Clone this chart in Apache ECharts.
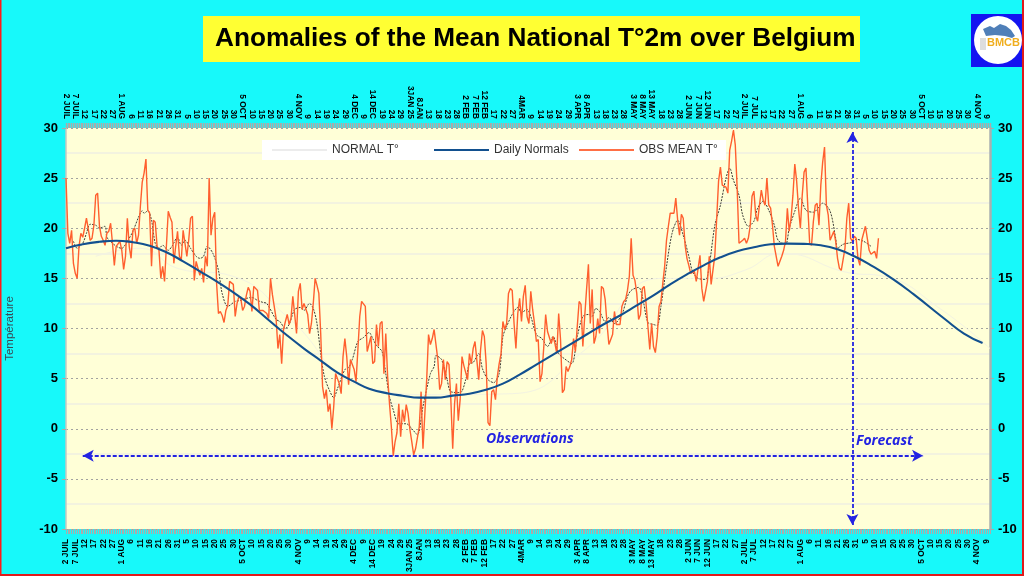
<!DOCTYPE html>
<html><head><meta charset="utf-8">
<style>html,body{margin:0;padding:0;background:#17F9FA}#c{width:1024px;height:576px}</style>
<script src="https://cdn.jsdelivr.net/npm/echarts@6/dist/echarts.min.js"></script>
</head><body><div id="c"></div>
<script>
const tickLabels = ["2 JUIL","7 JUIL","12","17","22","27","1 AUG","6","11","16","21","26","31","5","10","15","20","25","30","5 OCT","10","15","20","25","30","4 NOV","9","14","19","24","29","4 DEC","9","14 DEC","19","24","29","3JAN 25","8JAN","13","18","23","28","2 FEB","7 FEB","12 FEB","17","22","27","4MAR","9","14","19","24","29","3 APR","8 APR","13","18","23","28","3 MAY","8 MAY","13 MAY","18","23","28","2 JUN","7 JUN","12 JUN","17","22","27","2 JUIL","7 JUL","12","17","22","27","1 AUG","6","11","16","21","26","31","5","10","15","20","25","30","5 OCT","10","15","20","25","30","4 NOV","9"];
const DAY_COUNT = 498;

const obsSummer = [25,19.5,18.5,19.8,16.5,15.5,15,18.2,19.5,19.1,
20,21,21.1,18.8,19,20.3,23.3,23.5,20.2,19.2,
18.8,18.3,19.5,19.7,20.5,18.5,16.3,18.2,18.2,18.7,
17.8,15.9,17.2,21,18.2,17,19.8,20,18.5,19.3,
22.2,24.6,25.5,26.9,21.8,21.5,16.2,20.8,20.6,18.2,
17.8,15,16.2,14.7,18.2,21.7,21.1,20.6,16.5,18.2,
19.7,17.2,16.8,19.8,18.5,17.2,18.8,21,21.2,14.8,
16.7,16.7,15.3,16,14.6,17.2,16.2,25,19.3,21,
21.6,14.5,11.5,11.7,11.3,10.6,11.8,12.3,14.7,14.7,
14.4,11.2,12.5,13.2,13,11.8,12.2,13.3,14.1,13.7,
11.7,14.2,14.3,13.8,11.8,11.9,11.8,11.8,11.5,11,
15,13.4,13.3,11];
const obsWinter = [8,9.4,6.5,9.9,10.7,11.4,10.4,11,13.2,11.4,
9.5,13.7,14.5,11.9,12.5,12.6,11.4,9.5,10.5,12.5,
15,14.3,13.5,9.5,4.2,3,3.9,1.7,2.5,0,
2.2,5.5,5,4.5,3.5,7.2,9,7.2,4.4,6.9,
7,5.9,4.7,7.9,11.2,12.7,12.7,12.2,7.7,7.7,
9.2,6.5,6.7,10.4,8.2,10.5,10.7,5.5,9.5,5.2,
2.5,0.2,-2.7,-1.3,-0.4,2.5,-0.8,1.9,0.7,2.4,
1.5,-0.1,-1.3,-2.6,-2,-1.9,0.2,3.7,-2,-1.9,
4.9,9.4,8.4,9,9.9,10,6.9,3.9,4.5,6.9,
4.9,6.7,6.4,2.9,-2,2.5,4.5,0.8,2.9,7.2,
6.3,6.4,4.9,7.5,6.5,8,8.7,8.7,4.9];
const obsSpring = [7.9,9.8,9.2,6.5,0.6,0.3,3.7,3.9,2.9,5.2,
6.5,7.5,10.7,9.9,10.5,13.5,14,13.8,10.5,8,
11.5,13,10.7,13.2,14.3,11.2,10.5,13.7,11.9,10.5,
8.7,8.9,4.7,5.5,8.2,11.4,9.7,9.7,8.5,9.2,
8.5,7.5,11.5,8.9,3.6,3.9,6.2,5.7,6.2,6.9,
9,7.7,7.8,12.7,12.4,8.2,11.2,13.9,16.4,10.5,
13.9,8.5,9.2,11,9.5,14.2,14,12.9,10.5,8.4,
8.9,9.4,11.7,10.4,10.3,10.4,12.2,12.7,12.9,13.8,
15.2,19,15.3,14.8,13.5,10.9,11.4,14,14.2,12.5,
10.2,7.9,10.5,8.2,7.6,9.2,12.2,12.7,14.5,16.2,
18.8,20.2,21.5,21.6,21.5,23,20.8,19.3];
const obsNextSummer = [21.4,21,18.3,17,16.3,15.5,15.4,15.7,14.7,14.8,
17.3,14,12.7,12.7,14.7,17.2,14.4,14.3,17.3,21,
24.7,26.1,24.3,24.4,24.1,23.5,27.8,28.7,29.8,28.3,
24,18.5,18.5,18.8,19,18.5,19,20.2,23.2,23.7,
21.3,20.7,22.3,23.8,22.8,22.3,25,22.3,22,20.3,
18.2,17.2,16.2,16.7,17.2,17.8,18.7,22,19.7,21,
23.3,26.4,24.7,22,20,23.3,25.6,26,22.2,18.5,
18.3,20.7,22.3,22.5,20.3,24.3,26.6,28.1,22.3,21.3,
18.8,18.7,19.7,18.7,17,16,15.8,15.8,18,21,
22.5,19,18.7,19.2,19,17,16.3,18.8,18.7,20.2,
19,17.8,17.4,17.5,17.7,17,19];
const obsValues = [...obsSummer, ...obsWinter, ...obsSpring, ...obsNextSummer];

const trendDays = [4,6,9,11,13,16,18,21,22,25,28,30,33,36,39,41,42,44,46,48,50,52,55,57,60,62,64,67,70,72,74,76,79,82,84,87,91,94,97,100,103,106,108,113,
115,118,120,123,126,128,131,133,135,137,139,142,144,146,150,152,154,157,160,163,165,167,170,172,174,176,179,183,186,189,192,196,198,199,202,205,207,212,215,217,219,222,
224,227,230,233,235,237,240,243,245,248,250,253,256,259,262,265,268,272,275,278,281,283,285,287,290,292,295,299,302,304,308,310,313,316,318,320,323,326,329,
332,335,337,340,344,346,349,352,355,357,359,362,364,367,370,372,375,378,381,383,387,389,392,395,398,402,407,411,414,415,418,423,425,429,433];
const trendValues = [18.7,18,18.5,19.5,20.4,20.3,20,20.2,19.1,18.5,18.1,18,18.7,19.7,21.1,21.75,21.5,21.75,20.8,18.5,18,18.3,17.8,18.2,19.1,18.3,18.8,18,17.2,17,17.2,18.2,17.5,15.8,13.5,12.2,12.7,12.8,13,13.1,12.8,12.6,12.5,10.9,
10.7,10,10.4,11.9,12.1,11.8,12.5,12,10.5,7.5,5.2,3.7,3.1,4,5.9,6.1,6.9,8.7,9.1,9.6,9,8.3,7.7,5.5,3.2,1.9,0.5,0.5,0,-0.6,2.2,5.5,6.2,7.3,6.9,4.9,3.7,3.6,4.9,6.5,6.6,7.5,
6,4.9,4.6,5.5,9.2,10.2,11.4,12.1,11.6,11.9,11.2,9.4,9,8.2,9.2,7.5,7,6.5,9.2,11.2,11.4,11.2,12,11.7,10.7,11.1,10.5,11.4,13.2,13.8,14.1,13.2,10.6,10.4,10.3,12.2,16.2,19.5,20.8,
19.3,17.2,15.7,15,14.9,16.3,20.3,22.3,25,26,24.8,23.3,21.3,20.2,20.7,22,22.7,21.8,20.3,18.8,18.4,20,21.7,23,21.8,21.6,22.5,21.7,19,18,18.4,18.6,18.9,18.7,18.2];

const normalDays = [0,9,18,27,36,45,54,63,72,81,90,99,108,119,128,137,146,155,163,174,181,190,199,208,217,226,235,244,253,262,271,280,289,298,307,316,325,334,343,352,361,370,379,388,397,406,415,424,433,445,456,473,483,493];
const normalValues = [18,18.4,18.65,18.76,18.6,18.25,17.6,16.7,15.7,14.7,13.6,12.4,11,9.3,8,6.8,5.6,4.7,4,3.5,3.3,3.1,3.1,3.3,3.5,3.9,4.5,5.4,6.4,7.4,8.4,9.4,10.4,11.3,12.3,13.3,14.4,15.4,16.3,17.1,17.7,18.1,18.4,18.47,18.44,18.3,17.9,17.2,16.3,14.9,13.4,10.9,9.5,8.55];

const faintDays = [16,40,60,90,120,160,200,240,280,320,345,365,385,420,440,470,497];
const faintValues = [17.2,18,16,15.2,11,4.2,3.4,3.5,8,15,15,15.8,17.5,15.6,15.2,12,8];

const zip = (a, b) => a.map((d, i) => [d, b[i]]);
const categories = Array.from({length: DAY_COUNT}, (_, i) => i % 5 === 0 && tickLabels[i / 5] ? tickLabels[i / 5] : '');
const FONT = '"Liberation Sans", Arial, sans-serif';
const BLUE = '#2323E2';

const xAxisBase = (position, margin, tickWidth) => ({
  type: 'category', position, data: categories, boundaryGap: false,
  axisLine: {show: false, onZero: false},
  axisTick: {show: true, interval: 0, length: 5, lineStyle: {color: '#ababab', width: tickWidth}},
  axisLabel: {interval: 0, rotate: 90, margin, fontFamily: FONT, fontSize: 8.4, fontWeight: 'bold', color: '#000'},
  splitLine: {show: false}
});
const yAxisBase = (position, lineColor, lineWidth, weight) => ({
  type: 'value', position, min: -10, max: 30, interval: 5,
  axisLine: {show: true, onZero: false, lineStyle: {color: lineColor, width: lineWidth}},
  axisTick: {show: true, length: 4, lineStyle: {color: '#aaa'}},
  axisLabel: {fontFamily: FONT, fontSize: 13, fontWeight: weight, color: '#000', margin: 8}
});

const legendAt = (name, left) => ({
  data: [{name, icon: 'rect'}], left, top: 144, padding: 0, itemWidth: 55, itemHeight: 2, itemGap: 0,
  textStyle: {fontFamily: FONT, fontSize: 12, color: '#333'}, selectedMode: false
});

const chart = echarts.init(document.getElementById('c'), null, {renderer: 'canvas'});
chart.setOption({
  animation: false,
  backgroundColor: '#17F9FA',
  grid: {left: 66, right: 34, top: 128, bottom: 47, show: true, backgroundColor: '#FFFFD7', borderWidth: 0, outerBoundsMode: 'none', containLabel: false},
  legend: [legendAt('NORMAL T°', 272), legendAt('Daily Normals', 434), legendAt('OBS MEAN T°', 579)],
  xAxis: [xAxisBase('bottom', 10, 1), xAxisBase('top', 9, 1.4)],
  yAxis: [
    Object.assign(yAxisBase('left', '#c9c9c0', 1.5, 'bold'), {
      name: 'Température', nameLocation: 'middle', nameGap: 50, nameRotate: 90,
      nameTextStyle: {fontFamily: FONT, fontSize: 11.5, color: '#3a4a55'},
      splitLine: {show: true, lineStyle: {color: '#a3a3a0', type: [2, 3], width: 1}},
      minorTick: {show: false, splitNumber: 2},
      minorSplitLine: {show: true, lineStyle: {color: '#EFEFE2', width: 1.5}}
    }),
    Object.assign(yAxisBase('right', '#aab0b0', 2.5, 'bold'), {splitLine: {show: false}})
  ],
  series: [
    {name: 'NORMAL T°', type: 'line', data: zip(faintDays, faintValues), smooth: true, symbol: 'none', z: 2,
     lineStyle: {color: '#F3F3E2', width: 1}, itemStyle: {color: '#ECECEC'}},
    {name: 'trend', type: 'line', data: zip(trendDays, trendValues), smooth: 0.3, symbol: 'none', z: 3,
     lineStyle: {color: '#3c3c36', width: 1, type: [2, 1.2]}},
    {name: 'OBS MEAN T°', type: 'line', data: zip(obsValues.map((_, i) => i), obsValues), symbol: 'none', z: 4,
     lineStyle: {color: '#FF5F2E', width: 1.4}, itemStyle: {color: '#FF6F45'},
     markLine: {silent: true, animation: false, symbol: ['arrow', 'arrow'], symbolSize: [9, 11], label: {show: false},
       lineStyle: {color: BLUE, width: 1.8, type: [4, 2]}, itemStyle: {color: BLUE}, emphasis: {disabled: true},
       data: [
         [{coord: [9, -2.7]}, {coord: [461, -2.7]}],
         [{coord: [423.4, 29.6]}, {coord: [423.4, -9.6]}]
       ]}},
    {name: 'Daily Normals', type: 'line', data: zip(normalDays, normalValues), smooth: true, symbol: 'none', z: 5,
     lineStyle: {color: '#12508F', width: 2.1}, itemStyle: {color: '#12508F'}}
  ],
  graphic: [
    {type: 'rect', z: 3, shape: {x: 262, y: 140, width: 464, height: 20}, style: {fill: '#fff'}},
    {type: 'rect', z: 10, shape: {x: 203, y: 16, width: 657, height: 46}, style: {fill: '#FFFF33'}},
    {type: 'text', z: 11, x: 215, y: 39, style: {text: 'Anomalies of the Mean National T°2m over Belgium', fontFamily: FONT, fontSize: 26.2, fontWeight: 'bold', fill: '#000', verticalAlign: 'middle', textAlign: 'left'}},
    {type: 'text', z: 11, x: 486, y: 439, style: {text: 'Observations', fontFamily: '"Open Sans", sans-serif', fontSize: 14, fontWeight: 'bold', fontStyle: 'italic', fill: BLUE, verticalAlign: 'middle'}},
    {type: 'text', z: 11, x: 856, y: 441, style: {text: 'Forecast', fontFamily: '"Open Sans", sans-serif', fontSize: 14, fontWeight: 'bold', fontStyle: 'italic', fill: BLUE, verticalAlign: 'middle'}},
    {type: 'rect', z: 10, shape: {x: 971, y: 14, width: 51, height: 53}, style: {fill: '#1414F0'}},
    {type: 'circle', z: 11, shape: {cx: 998, cy: 40, r: 24}, style: {fill: '#fff'}},
    {type: 'polygon', z: 12, shape: {points: [[983,29],[990,26],[994,28],[1000,24],[1006,26],[1011,30],[1015,36],[1012,38],[1005,36],[995,35],[986,36]]}, style: {fill: '#4F7FB8'}},
    {type: 'text', z: 13, x: 987, y: 43, style: {text: 'BMCB', fontFamily: FONT, fontSize: 11, fontWeight: 'bold', fill: '#F0AE1E', verticalAlign: 'middle'}},
    {type: 'rect', z: 12, shape: {x: 980, y: 38, width: 6, height: 12}, style: {fill: '#ddd'}},
    {type: 'rect', z: 20, shape: {x: 0, y: 0, width: 1.5, height: 576}, style: {fill: '#FF1A1A'}},
    {type: 'rect', z: 20, shape: {x: 1022, y: 0, width: 2, height: 576}, style: {fill: '#E01A1A'}},
    {type: 'rect', z: 20, shape: {x: 0, y: 574, width: 1024, height: 2}, style: {fill: '#E01A1A'}}
  ]
});
</script></body></html>
